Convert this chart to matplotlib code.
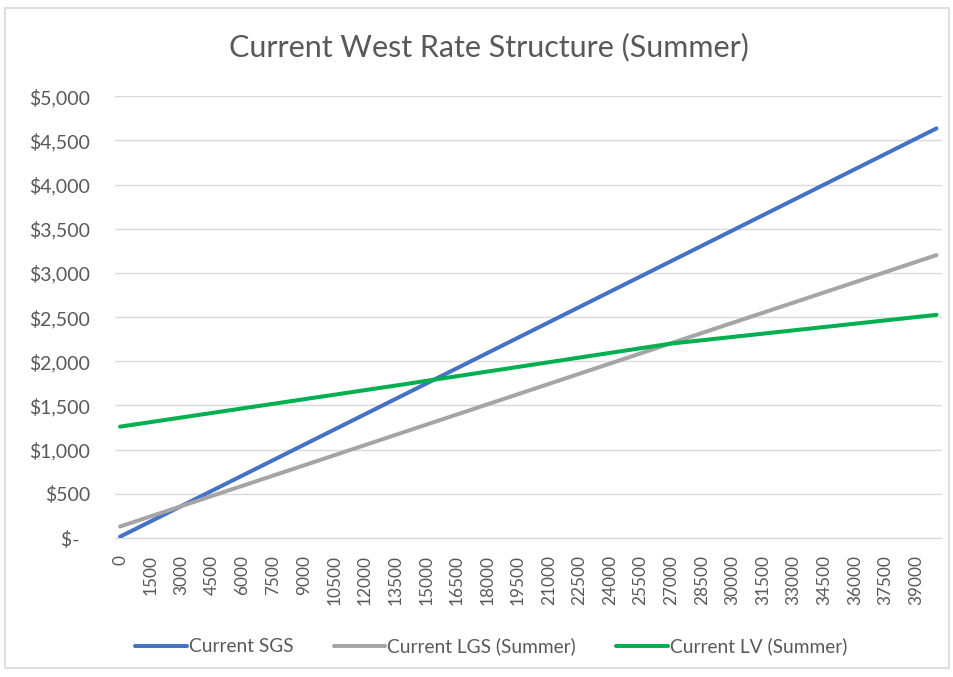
import matplotlib
matplotlib.use("Agg")
import matplotlib.pyplot as plt
from matplotlib.patches import Rectangle

## datos (kWh vs costo)
usage = [0, 13500, 27000, 40000]
sgs = [15, 1574, 3133, 4635]
lgs = [130, 1167, 2204, 3201]
lv = [1260, 1725, 2200, 2525]

xticks = list(range(0, 40000, 1500))
xlabels = [str(v) for v in xticks]
yticks = [0, 500, 1000, 1500, 2000, 2500, 3000, 3500, 4000, 4500, 5000]
ylabels = ["$-  "] + ["${:,}".format(v) for v in yticks[1:]]

plt.rcParams['font.family'] = ['Lato', 'DejaVu Sans']
txt = '#595959'

fig = plt.figure(figsize=(9.54, 6.77), dpi=100)
fig.patches.append(Rectangle((0.005, 0.013), 0.99, 0.975, transform=fig.transFigure,
                             fill=False, edgecolor='#d9d9d9', lw=1.2))

ax = fig.add_axes([0.1205, 0.2053, 0.8665, 0.6527])
ax.plot(usage, sgs, color='#4472C4', lw=2.9, label='Current SGS', solid_capstyle='round')
ax.plot(usage, lgs, color='#A5A5A5', lw=2.9, label='Current LGS (Summer)', solid_capstyle='round')
ax.plot(usage, lv, color='#00B050', lw=2.9, label='Current LV (Summer)', solid_capstyle='round')

ax.set_xlim(-250, 40250)
ax.set_ylim(0, 5000)
ax.set_xticks(xticks)
ax.set_xticklabels(xlabels, rotation=90, color=txt, fontsize=12.4)
ax.set_yticks(yticks)
ax.set_yticklabels(ylabels, color=txt, fontsize=14)
ax.tick_params(axis='x', length=0, pad=12)
ax.tick_params(axis='y', length=0, pad=18)
ax.grid(axis='y', color='#d9d9d9', lw=1)
ax.set_axisbelow(True)
for s in ['top', 'right', 'left']:
    ax.spines[s].set_visible(False)
ax.spines['bottom'].set_color('#d9d9d9')

fig.text(0.512, 0.93, 'Current West Rate Structure (Summer)', ha='center', va='center',
         fontsize=22, color=txt)

fig.legend(loc='center', bbox_to_anchor=(0.515, 0.045), ncol=3, frameon=False,
           fontsize=13.8, handlelength=2.7, handletextpad=0.1, columnspacing=2.1,
           labelcolor=txt)

fig.savefig('out.png', dpi=100)
